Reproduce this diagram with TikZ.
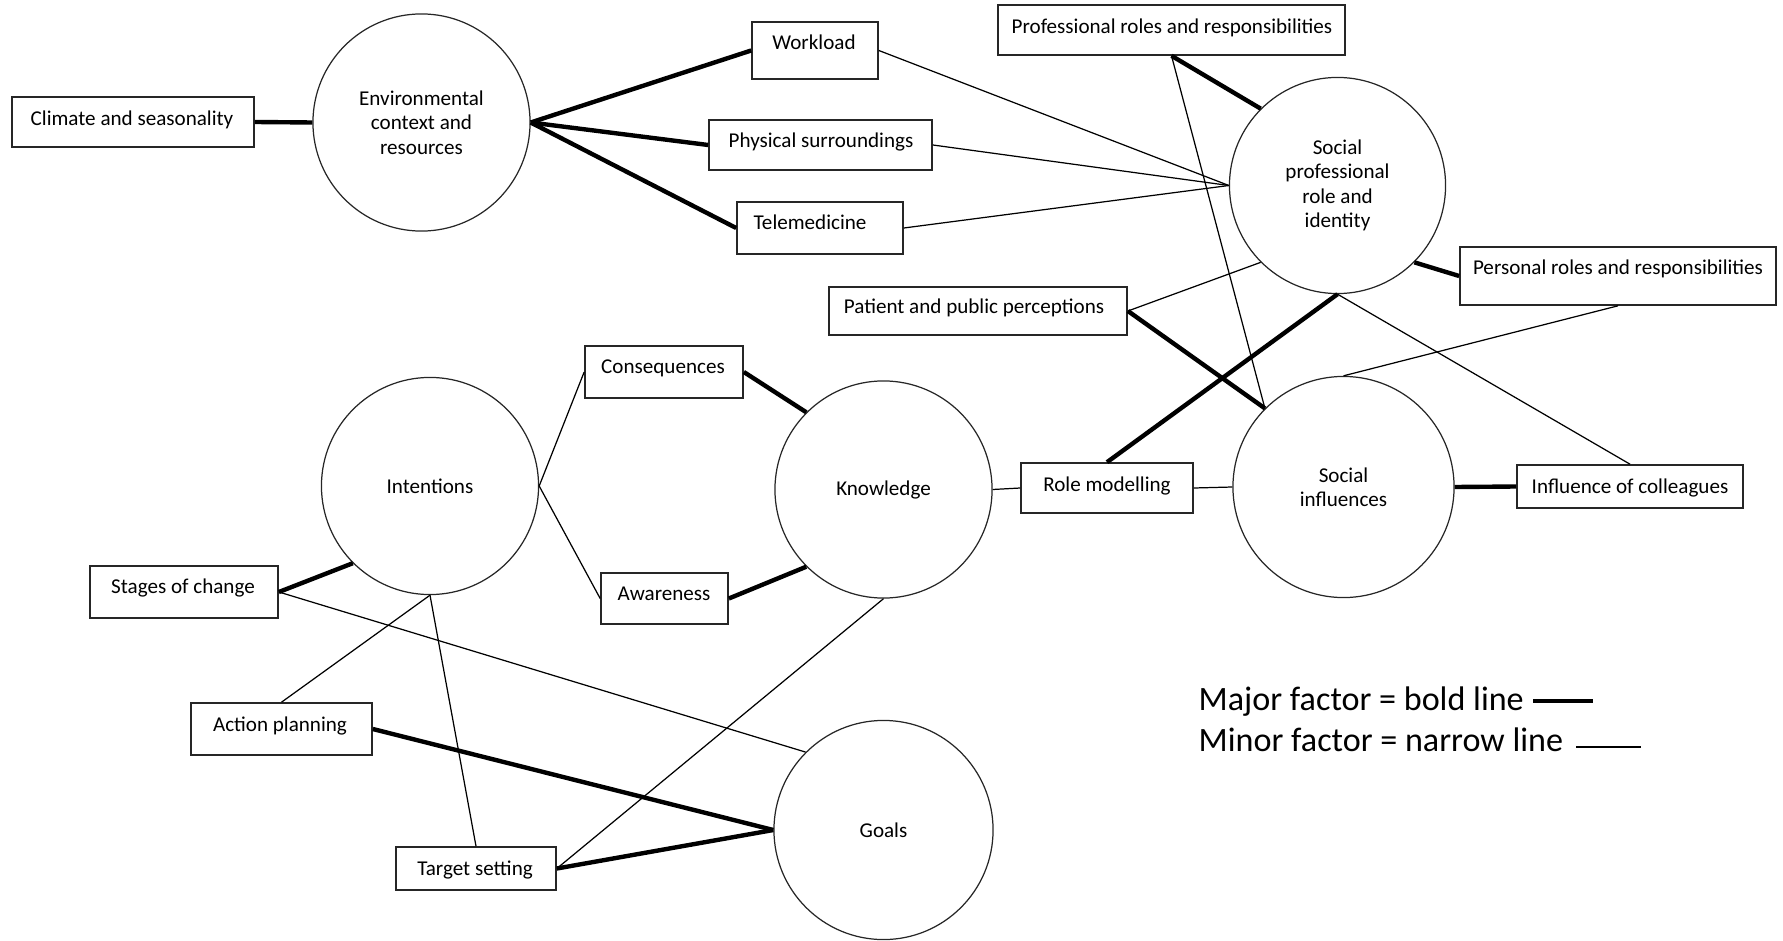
\documentclass[tikz,border=0pt]{standalone}
\usepackage{fontspec}
\setmainfont{Carlito}
\newcommand\ndfont{\fontsize{6}{6.96}\selectfont}
\newcommand\lgfont{\fontsize{9.7}{11}\selectfont}
\begin{document}
\begin{tikzpicture}[x=0.01cm,y=-0.01cm,
  box/.style={draw=black!85, line width=0.45pt, rectangle, inner sep=0pt},
  circ/.style={draw=black!85, line width=0.35pt, circle, inner sep=0pt, align=center, font=\ndfont},
  txt/.style={inner sep=0pt, font=\ndfont, text height=1.5ex, text depth=0.25ex},
  lgtxt/.style={inner sep=0pt, anchor=west, font=\lgfont, text height=1.5ex, text depth=0.25ex},
  thinln/.style={line width=0.35pt},
  boldln/.style={line width=1.25pt}]
\useasboundingbox (0,0) rectangle (1783,940);

% boxes
\node[box, minimum width=2.42cm, minimum height=0.50cm] (clim) at (133,122) {};
\node[txt] (clim-t) at (132,115) {Climate and seasonality};
\node[box, minimum width=1.26cm, minimum height=0.57cm] (wl) at (815,50.5) {};
\node[txt] (wl-t) at (814,39) {Workload};
\node[box, minimum width=2.23cm, minimum height=0.50cm] (ps) at (820.5,145) {};
\node[txt] (ps-t) at (821,137) {Physical surroundings};
\node[box, minimum width=1.66cm, minimum height=0.52cm] (tm) at (820,228) {};
\node[txt] (tm-t) at (810,219) {Telemedicine};
\node[box, minimum width=3.47cm, minimum height=0.50cm] (pr) at (1171.5,30) {};
\node[txt] (pr-t) at (1172,23) {Professional roles and responsibilities};
\node[box, minimum width=3.16cm, minimum height=0.58cm] (pers) at (1618,276) {};
\node[txt] (pers-t) at (1618,264) {Personal roles and responsibilities};
\node[box, minimum width=2.98cm, minimum height=0.48cm] (pat) at (978,311) {};
\node[txt] (pat-t) at (974,303) {Patient and public perceptions};
\node[box, minimum width=1.58cm, minimum height=0.52cm] (cons) at (664,372) {};
\node[txt] (cons-t) at (663,363) {Consequences};
\node[box, minimum width=1.27cm, minimum height=0.51cm] (aw) at (664.5,598.5) {};
\node[txt] (aw-t) at (664,590) {Awareness};
\node[box, minimum width=1.72cm, minimum height=0.50cm] (rm) at (1107,488) {};
\node[txt] (rm-t) at (1107,481) {Role modelling};
\node[box, minimum width=2.26cm, minimum height=0.43cm] (ic) at (1630,486.5) {};
\node[txt] (ic-t) at (1630,483) {Influence of colleagues};
\node[box, minimum width=1.88cm, minimum height=0.52cm] (sc) at (184,592) {};
\node[txt] (sc-t) at (183,583) {Stages of change};
\node[box, minimum width=1.81cm, minimum height=0.52cm] (ap) at (281.5,729) {};
\node[txt] (ap-t) at (280,721) {Action planning};
\node[box, minimum width=1.60cm, minimum height=0.43cm] (ts) at (476,868.5) {};
\node[txt] (ts-t) at (475,865) {Target setting};

% circles
\node[circ, minimum size=2.17cm] (env) at (421.5,122.5) {Environmental\\context and\\resources};
\node[circ, minimum size=2.16cm] (sp) at (1337.5,185.5) {Social\\professional\\role and\\identity};
\node[circ, minimum size=2.17cm] (int) at (430,486) {Intentions};
\node[circ, minimum size=2.17cm] (kn) at (883.5,489.5) {Knowledge};
\node[circ, minimum size=2.21cm] (si) at (1343.5,487) {Social\\influences};
\node[circ, minimum size=2.19cm] (goals) at (883.5,830) {Goals};

% connectors
\draw[boldln] (clim.east) -- (env.west);
\draw[boldln] (env.east) -- (wl.west);
\draw[boldln] (env.east) -- (ps.west);
\draw[boldln] (env.east) -- (tm.west);
\draw[thinln] (wl.east) -- (sp.west);
\draw[thinln] (ps.east) -- (sp.west);
\draw[thinln] (tm.east) -- (sp.west);
\draw[boldln] (pr.south) -- (sp.135);
\draw[thinln] (pr.south) -- (si.135);
\draw[boldln] (sp.-45) -- (pers.west);
\draw[thinln] (sp.225) -- (pat.east);
\draw[boldln] (pat.east) -- (si.135);
\draw[boldln] (rm.north) -- (sp.south);
\draw[thinln] (sp.south) -- (ic.north);
\draw[thinln] (pers.south) -- (si.north);
\draw[boldln] (si.east) -- (ic.west);
\draw[thinln] (rm.east) -- (si.west);
\draw[thinln] (kn.east) -- (rm.west);
\draw[boldln] (cons.east) -- (kn.135);
\draw[boldln] (aw.east) -- (kn.225);
\draw[thinln] (int.east) -- (cons.west);
\draw[thinln] (int.east) -- (aw.west);
\draw[boldln] (sc.east) -- (int.225);
\draw[thinln] (sc.east) -- (goals.135);
\draw[thinln] (int.south) -- (ap.north);
\draw[thinln] (int.south) -- (ts.north);
\draw[boldln] (ap.east) -- (goals.west);
\draw[boldln] (ts.east) -- (goals.west);
\draw[thinln] (ts.east) -- (kn.south);

% legend
\node[lgtxt] (lg1) at (1198,700) {Major factor = bold line};
\node[lgtxt] (lg2) at (1198,741) {Minor factor = narrow line};
\coordinate (lb1) at (1533,701);
\coordinate (lb2) at (1593,701);
\draw[line width=1.4pt] (lb1) -- (lb2);
\coordinate (ln1) at (1576,747);
\coordinate (ln2) at (1641,747);
\draw[thinln] (ln1) -- (ln2);
\end{tikzpicture}
\end{document}
